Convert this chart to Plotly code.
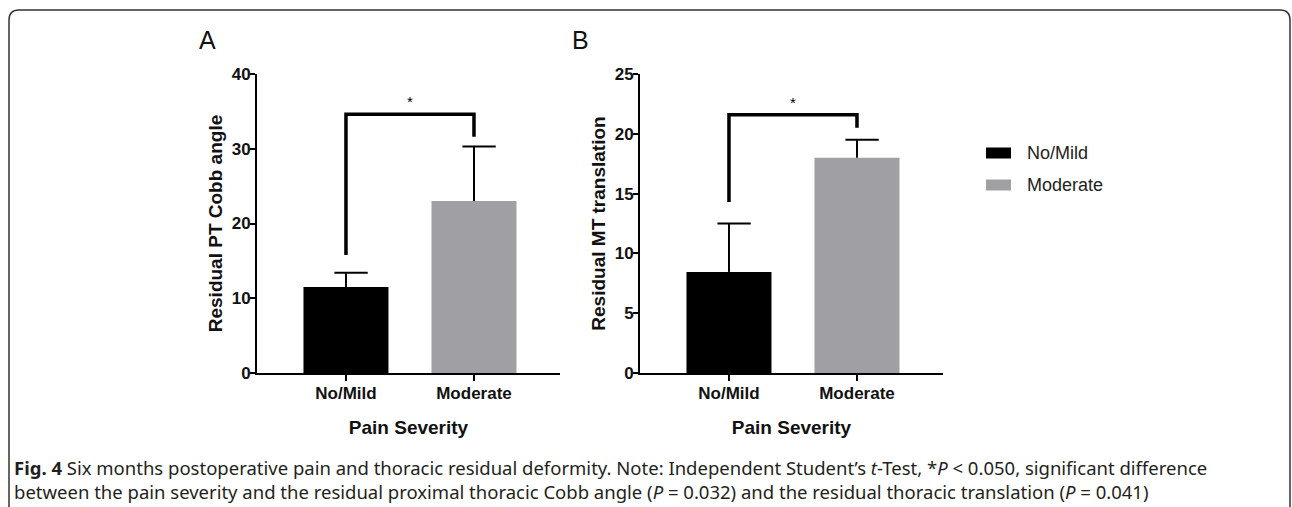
import plotly.graph_objects as go

# ---------------- data ----------------
categories = ["No/Mild", "Moderate"]
cobb_mean = [11.5, 23.0]          # Residual PT Cobb angle
cobb_sem = [1.9, 7.3]
trans_mean = [8.45, 18.0]         # Residual MT translation
trans_sem = [4.05, 1.5]
cobb_bracket = [15.8, 34.6, 34.6, 31.6]
trans_bracket = [14.3, 21.6, 21.6, 20.5]
cobb_star_y = 36.1
trans_star_y = 22.5
cobb_ticks = [0, 10, 20, 30, 40]
trans_ticks = [0, 5, 10, 15, 20, 25]

bar_colors = ["#000000", "#A0A0A4"]

W, H = 1292, 507
FONT = "Liberation Sans, Arial, Helvetica, sans-serif"
CAP_FONT = "Noto Sans, Open Sans, sans-serif"
TXT = "#111111"

xs = [0, 1]
BAR_W = 0.664
CAP_L, CAP_R = 0.09, 0.17


def px_x(p):
    return p / W


def px_y(p):
    return 1 - p / H


fig = go.Figure()

panels = [
    ("x", "y", cobb_mean, cobb_sem, cobb_bracket, cobb_star_y),
    ("x2", "y2", trans_mean, trans_sem, trans_bracket, trans_star_y),
]

for xa, ya, means, sems, bracket, star_y in panels:
    for i, cat in enumerate(categories):
        fig.add_trace(go.Bar(
            x=[xs[i]], y=[means[i]], width=BAR_W, name=cat,
            marker=dict(color=bar_colors[i], line=dict(width=0)),
            xaxis=xa, yaxis=ya, showlegend=False, hoverinfo="skip",
        ))
    # upper-only error bars (SEM)
    ex, ey = [], []
    for i in range(len(categories)):
        top = means[i] + sems[i]
        ex += [xs[i], xs[i], None, xs[i] - CAP_L, xs[i] + CAP_R, None]
        ey += [means[i], top, None, top, top, None]
    fig.add_trace(go.Scatter(
        x=ex, y=ey, mode="lines", line=dict(color="#000000", width=2),
        xaxis=xa, yaxis=ya, showlegend=False, hoverinfo="skip",
    ))
    # significance bracket
    fig.add_trace(go.Scatter(
        x=[xs[0], xs[0], xs[1], xs[1]], y=bracket, mode="lines",
        line=dict(color="#000000", width=3.5),
        xaxis=xa, yaxis=ya, showlegend=False, hoverinfo="skip",
    ))
    fig.add_trace(go.Scatter(
        x=[(xs[0] + xs[1]) / 2], y=[star_y], mode="text", text=["*"],
        textfont=dict(family=FONT, size=15, color="#000000"),
        xaxis=xa, yaxis=ya, showlegend=False, hoverinfo="skip",
    ))

common_x = dict(
    range=[-0.695, 1.672], tickvals=xs, ticktext=categories,
    showline=True, linewidth=2, linecolor="#000000", mirror=False,
    ticks="outside", ticklen=6, tickwidth=2, tickcolor="#000000",
    tickfont=dict(family=FONT, size=17, color=TXT, weight="bold"),
    ticklabelstandoff=-2,
    showgrid=False, zeroline=False, fixedrange=True, automargin=False,
    title=dict(text="Pain Severity", font=dict(family=FONT, size=19, color=TXT, weight="bold"), standoff=18),
)
common_y = dict(
    showline=True, linewidth=2, linecolor="#000000",
    ticks="outside", ticklen=5, tickwidth=2, tickcolor="#000000",
    tickfont=dict(family=FONT, size=17, color=TXT, weight="bold"),
    ticklabelstandoff=-4,
    showgrid=False, zeroline=False, fixedrange=True, automargin=False,
    domain=[px_y(373), px_y(74)],
)

fig.update_layout(
    width=W, height=H, margin=dict(l=0, r=0, t=0, b=0, pad=0, autoexpand=False),
    paper_bgcolor="white", plot_bgcolor="white", barmode="overlay",
    xaxis=dict(domain=[px_x(257), px_x(560)], anchor="y", **common_x),
    xaxis2=dict(domain=[px_x(640), px_x(943)], anchor="y2", **common_x),
    yaxis=dict(anchor="x", range=[0, 40], tickvals=cobb_ticks,
               title=dict(text="Residual PT Cobb angle", font=dict(family=FONT, size=19, color=TXT, weight="bold"), standoff=4),
               **common_y),
    yaxis2=dict(anchor="x2", range=[0, 25], tickvals=trans_ticks,
                title=dict(text="Residual MT translation", font=dict(family=FONT, size=19, color=TXT, weight="bold"), standoff=4),
                **common_y),
    showlegend=False,
)

# legend (drawn manually to match swatch shape / spacing)
for i, cat in enumerate(categories):
    yc = 153 + 32 * i
    fig.add_shape(type="rect", xref="paper", yref="paper",
                  x0=px_x(986), x1=px_x(1011), y0=px_y(yc + 5.5), y1=px_y(yc - 5.5),
                  fillcolor=bar_colors[i], line=dict(width=0))
    fig.add_annotation(text=cat, x=px_x(1025), y=px_y(yc), xref="paper", yref="paper",
                       showarrow=False, xanchor="left", yanchor="middle",
                       font=dict(family=FONT, size=18, color="#222222"))

# panel letters
for letter, xp in [("A", 207), ("B", 580)]:
    fig.add_annotation(text=letter, x=px_x(xp), y=px_y(40), xref="paper", yref="paper",
                       showarrow=False, xanchor="center", yanchor="middle",
                       font=dict(family=FONT, size=25, color=TXT))

# caption
caption = ("<b>Fig. 4</b> Six months postoperative pain and thoracic residual deformity. Note: Independent Student’s "
           "<i>t</i>-Test, *<i>P</i> &lt; 0.050, significant difference<br>"
           "between the pain severity and the residual proximal thoracic Cobb angle (<i>P</i> = 0.032) and the residual "
           "thoracic translation (<i>P</i> = 0.041)")
fig.add_annotation(text=caption, x=px_x(12), y=px_y(479.5), xref="paper", yref="paper",
                   showarrow=False, xanchor="left", yanchor="middle", align="left",
                   font=dict(family=CAP_FONT, size=18.5, color="#231F20"))

# rounded frame
L, T, R, r = px_x(9), px_y(10), px_x(1290), 10
rx, ry = r / W, r / H
path = (f"M {L},-0.1 L {L},{T - ry} Q {L},{T} {L + rx},{T} "
        f"L {R - rx},{T} Q {R},{T} {R},{T - ry} L {R},-0.1")
fig.add_shape(type="path", path=path, xref="paper", yref="paper",
              line=dict(color="#333333", width=1.5), layer="above")

fig.write_html(
    "out.html",
    config={"displayModeBar": False},
    post_script="document.body.style.margin='0';document.body.style.overflow='hidden';",
)
